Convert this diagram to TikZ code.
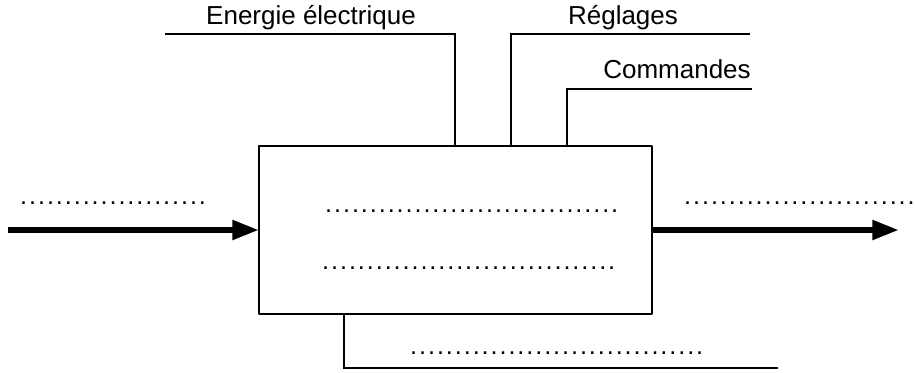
\documentclass[tikz,border=0pt]{standalone}
\usepackage{fontspec}
\usepackage{tikz, tkz-euclide}
\usetikzlibrary{arrows.meta}
\setmainfont{Liberation Sans}

\newcommand{\pointilles}[1]{\foreach \k in {1,...,#1}{\makebox[6.7pt]{.}}}

\tikzset{
    trait/.style={line width=1pt, line cap=butt},
    flux/.style={line width=4.5pt, line cap=butt, -{Triangle[length=20pt,width=14pt]}},
    legende/.style={font=\fontsize{19.5}{23}\selectfont, inner sep=0pt},
    vide/.style={font=\fontsize{19}{22}\selectfont, inner sep=0pt, anchor=base west}
}

\begin{document}
\begin{tikzpicture}[x=0.75pt,y=-0.75pt]
    \useasboundingbox (0,0) rectangle (915,373);
    % le systeme
    \tkzDefPoints{259/146/A, 652/146/B, 652/314/C, 259/314/D}
    \tkzDrawPolygon[line width=1.2pt](A,B,C,D)
    % entrees au dessus
    \tkzDefPoints{165/34/E1, 455/34/E2, 455/146/E3}
    \tkzDefPoints{511/146/R1, 511/34/R2, 750/34/R3}
    \tkzDefPoints{567/146/K1, 567/89/K2, 752/89/K3}
    \tkzDrawPolySeg[trait](E1,E2,E3)
    \tkzDrawPolySeg[trait](R1,R2,R3)
    \tkzDrawPolySeg[trait](K1,K2,K3)
    \node[legende, anchor=base] (energie) at (311,25) {Energie électrique};
    \node[legende, anchor=base] (reglages) at (623,25) {Réglages};
    \node[legende, anchor=base] (commandes) at (677,79) {Commandes};
    % sortie en dessous
    \tkzDefPoints{344/314/S1, 344/368/S2, 778/368/S3}
    \tkzDrawPolySeg[trait](S1,S2,S3)
    % matiere d'oeuvre
    \tkzDefPoints{8/230/M1, 259/230/M2, 652/230/M3, 899/230/M4}
    \tkzDrawSegment[flux](M1,M2)
    \tkzDrawSegment[flux](M3,M4)
    % pointilles
    \node[vide] (entree) at (19,205) {\pointilles{21}};
    \node[vide] (sortie) at (683,205) {\pointilles{26}};
    \node[vide] (fonction) at (324,213) {\pointilles{33}};
    \node[vide] (support) at (321,270) {\pointilles{33}};
    \node[vide] (perte) at (409,355) {\pointilles{33}};
\end{tikzpicture}
\end{document}
